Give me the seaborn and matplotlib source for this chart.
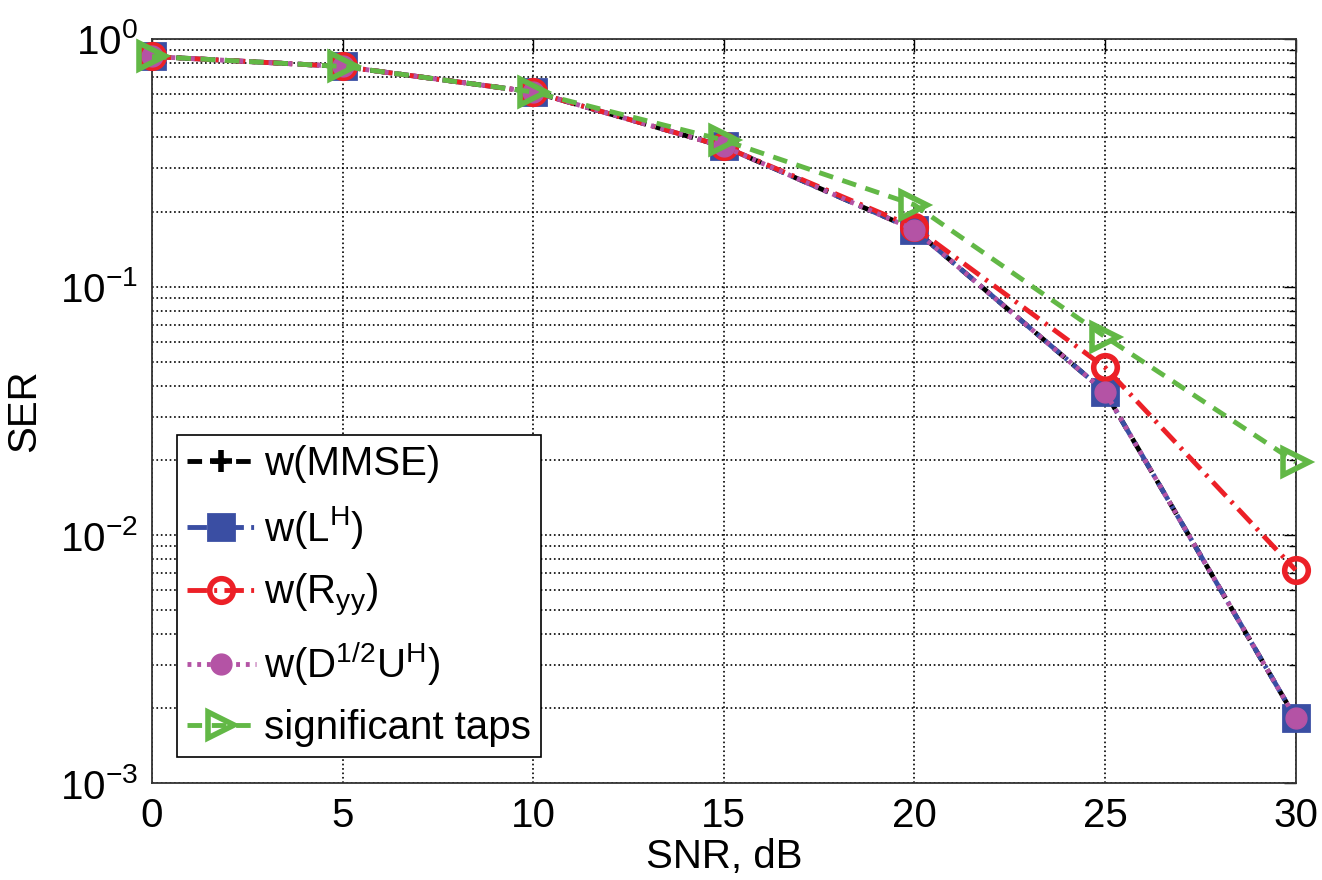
import numpy as np
import pandas as pd
import matplotlib
matplotlib.use("Agg")
import matplotlib.pyplot as plt
import seaborn as sns

# SNR points and SER curves
snr = [0, 5, 10, 15, 20, 25, 30]
ser_mmse = [0.848, 0.773, 0.61, 0.368, 0.170, 0.0378, 0.00183]
ser_lh = [0.848, 0.773, 0.61, 0.368, 0.170, 0.0378, 0.00183]
ser_ryy = [0.848, 0.773, 0.61, 0.368, 0.174, 0.0474, 0.00723]
ser_dU = [0.848, 0.773, 0.61, 0.368, 0.170, 0.0378, 0.00183]
ser_sig = [0.848, 0.773, 0.61, 0.39, 0.214, 0.063, 0.0197]

labels = ["w(MMSE)", "w(L$^H$)", "w(R$_{yy}$)", "w(D$^{1/2}$U$^H$)", "significant taps"]

sns.set_style("white")
plt.rcParams["font.family"] = ["Liberation Sans", "DejaVu Sans"]
plt.rcParams["mathtext.default"] = "regular"
plt.rcParams["text.color"] = "black"
plt.rcParams["axes.labelcolor"] = "black"
plt.rcParams["xtick.color"] = "black"
plt.rcParams["ytick.color"] = "black"

fig = plt.figure(figsize=(13.22, 8.8), dpi=100)
ax = fig.add_axes([0.115, 0.110, 0.865, 0.846])

black, blue, red, purple, green = "black", "#3a4ea3", "#ec2027", "#b453a5", "#62b846"
dashed = (0, (3, 2))
dashdot = (0, (4, 1.5, 0.6, 1.5))
dotted = (0, (0.8, 1.2))
styles = [
    dict(color=black, linestyle=dashed, marker="+", markersize=16, markeredgewidth=4,
         markeredgecolor=black),
    dict(color=blue, linestyle=dashdot, marker="s", markersize=19, markeredgewidth=2,
         markerfacecolor=blue, markeredgecolor=blue),
    dict(color=red, linestyle=dashdot, marker="o", markersize=17, markeredgewidth=4,
         markerfacecolor="none", markeredgecolor=red),
    dict(color=purple, linestyle=dotted, marker="o", markersize=15, markeredgewidth=1,
         markerfacecolor=purple, markeredgecolor=purple),
    dict(color=green, linestyle=dashed, marker=">", markersize=19, markeredgewidth=4,
         markerfacecolor="none", markeredgecolor=green),
]

for ser, lab, st in zip([ser_mmse, ser_lh, ser_ryy, ser_dU, ser_sig], labels, styles):
    df = pd.DataFrame({"snr": snr, "ser": ser})
    sns.lineplot(data=df, x="snr", y="ser", ax=ax, label=lab, linewidth=3.5,
                 clip_on=False, zorder=3, **st)

ax.set_yscale("log")
ax.set_xlim(0, 30)
ax.set_ylim(1e-3, 1)
ax.set_xticks([0, 5, 10, 15, 20, 25, 30])
ax.grid(True, which="major", axis="both", linestyle=":", color="black", linewidth=1.2)
ax.grid(True, which="minor", axis="y", linestyle=":", color="black", linewidth=1.2)
ax.tick_params(which="both", direction="in", top=True, right=True, labelsize=29, pad=10)
ax.tick_params(which="major", length=9, width=1)
ax.tick_params(which="minor", length=5, width=1)
for sp in ax.spines.values():
    sp.set_color("#333333")
    sp.set_linewidth(1.3)

ax.set_xlabel("SNR, dB", fontsize=29, labelpad=2)
ax.set_ylabel("SER", fontsize=29, labelpad=12)

leg = ax.legend(loc="lower left", bbox_to_anchor=(0.022, 0.035), fontsize=29,
                frameon=True, fancybox=False, edgecolor="black", framealpha=1,
                handlelength=1.7, handletextpad=0.2, labelspacing=0.52,
                borderpad=0.25, borderaxespad=0, numpoints=1)
leg.get_frame().set_linewidth(1.2)

fig.savefig("out.png", dpi=100)
